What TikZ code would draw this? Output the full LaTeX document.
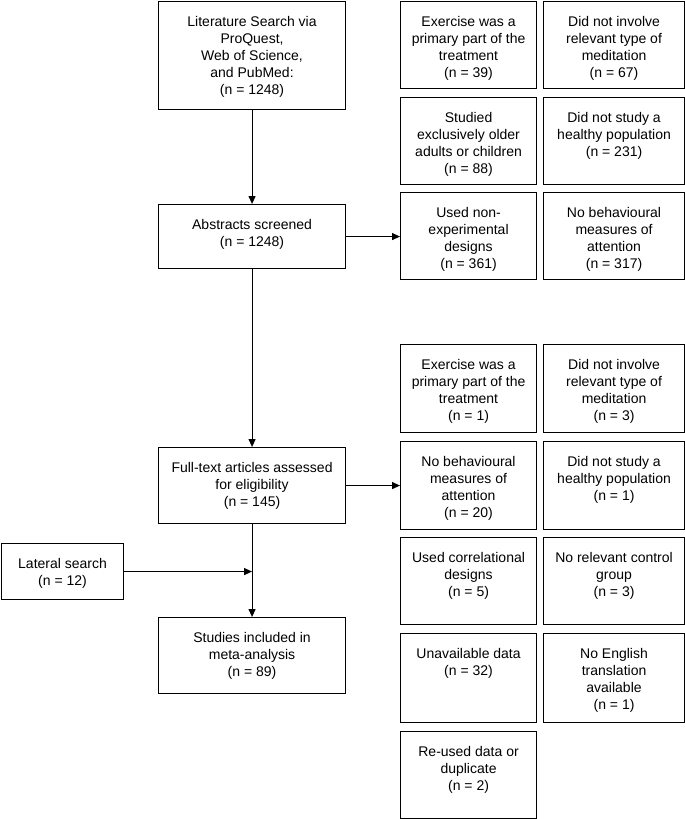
\documentclass[tikz,border=0pt]{standalone}
\usepackage{fontspec}
\setmainfont{Liberation Sans}
\usetikzlibrary{arrows.meta,calc}
\tikzset{
  boxst/.style={draw, line width=1.1pt, inner sep=0pt, rectangle},
  txt/.style={align=center, inner sep=0pt, font=\fontsize{14}{17}\selectfont},
  arr/.style={line width=1.1pt, -{Triangle[length=8pt,width=7pt]}},
  ln/.style={line width=1.1pt}
}
\newcommand\bx[6]{%
  \node[boxst, minimum width={(#4-#2)*1pt}, minimum height={(#5-#3)*1pt}, anchor=north west] (#1) at (#2pt,-#3pt) {};
  \node[txt, anchor=north] (#1t) at ([yshift=-14pt]#1.north) {\rule{0pt}{11pt}#6};
}
\begin{document}
\begin{tikzpicture}
\useasboundingbox (0,0) rectangle (685pt,-819pt);
% main column
\bx{lit}{158}{1}{345}{109}{Literature Search via\\ProQuest,\\Web of Science,\\and PubMed:\\(n = 1248)}
\bx{abs}{158}{204}{345}{268}{Abstracts screened\\(n = 1248)}
\bx{full}{158}{447}{345}{523}{Full-text articles assessed\\for eligibility\\(n = 145)}
\bx{lat}{1}{543}{123}{599}{Lateral search\\(n = 12)}
\bx{stud}{158}{617}{345}{693}{Studies included in\\meta-analysis\\(n = 89)}
% exclusion boxes, first group
\bx{ra}{400}{1}{536}{88}{Exercise was a\\primary part of the\\treatment\\(n = 39)}
\bx{rb}{543}{1}{684}{88}{Did not involve\\relevant type of\\meditation\\(n = 67)}
\bx{rc}{400}{97}{536}{184}{Studied\\exclusively older\\adults or children\\(n = 88)}
\bx{rd}{543}{97}{684}{184}{Did not study a\\healthy population\\(n = 231)}
\bx{re}{400}{192}{536}{279}{Used non-\\experimental\\designs\\(n = 361)}
\bx{rf}{543}{192}{684}{279}{No behavioural\\measures of\\attention\\(n = 317)}
% second group
\bx{sa}{400}{344}{536}{432}{Exercise was a\\primary part of the\\treatment\\(n = 1)}
\bx{sb}{543}{344}{684}{432}{Did not involve\\relevant type of\\meditation\\(n = 3)}
\bx{sc}{400}{441}{536}{529}{No behavioural\\measures of\\attention\\(n = 20)}
\bx{sd}{543}{441}{684}{529}{Did not study a\\healthy population\\(n = 1)}
\bx{se}{400}{537}{536}{624}{Used correlational\\designs\\(n = 5)}
\bx{sf}{543}{537}{684}{624}{No relevant control\\group\\(n = 3)}
\bx{sg}{400}{633}{536}{722}{Unavailable data\\(n = 32)}
\bx{sh}{543}{633}{684}{722}{No English\\translation\\available\\(n = 1)}
\bx{si}{400}{731}{536}{818}{Re-used data or\\duplicate\\(n = 2)}
% connectors
\draw[arr] (lit.south) -- (abs.north);
\draw[arr] (abs.south) -- (full.north);
\draw[arr] (full.south) -- (stud.north);
\draw[arr] (abs.east) -- (abs.east -| re.west);
\draw[arr] (full.east) -- (full.east -| sc.west);
\coordinate (join) at (lat.east -| full.south);
\draw[arr] (lat.east) -- (join);
\end{tikzpicture}
\end{document}
